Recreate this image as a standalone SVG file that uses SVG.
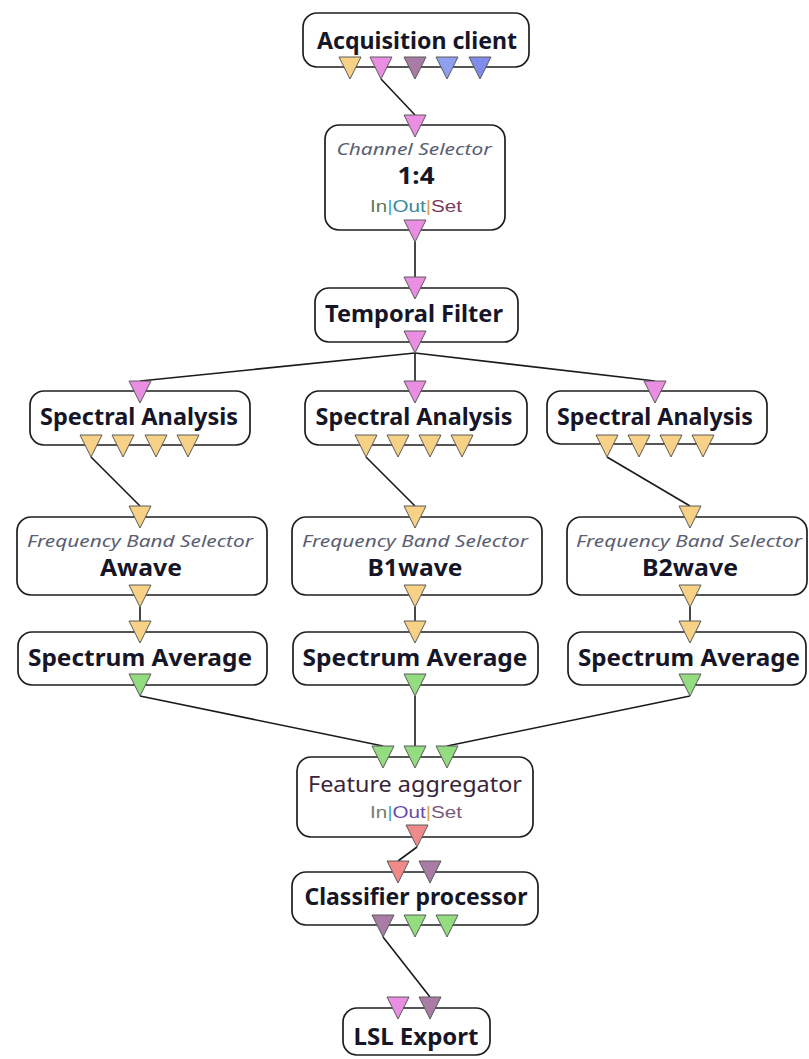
<svg xmlns="http://www.w3.org/2000/svg" xmlns:xlink="http://www.w3.org/1999/xlink" width="809" height="1059" viewBox="0 0 809 1059">
<style>
.box{fill:#fff;stroke:#1e1e1e;stroke-width:1.7}
.t{font-family:"Noto Sans","Open Sans","DejaVu Sans",sans-serif;font-weight:bold;font-size:23px;fill:#161628;text-anchor:middle}
.it{font-family:"Noto Sans","Open Sans","DejaVu Sans",sans-serif;font-style:italic;font-size:16px;fill:#5a5e72;text-anchor:middle}
.rg{font-family:"Noto Sans","Open Sans","DejaVu Sans",sans-serif;font-size:22px;fill:#3a2438;text-anchor:middle}
.ios{font-family:"Liberation Sans","Noto Sans",sans-serif;font-size:16px;text-anchor:middle}
.c{stroke:#1a1a1a;stroke-width:1.6;fill:none}
.y{fill:#f6d186}.p{fill:#ea8ee3}.m{fill:#a87ca4}.b1{fill:#8fa0ee}.b2{fill:#7f8cec}.g{fill:#93dc7f}.s{fill:#f08a8a}
</style>
<defs>
<path id="tri" d="M-11,0 L11,0 L0,22 Z" stroke="#5a5a5a" stroke-width="1"/>
</defs>
<g id="connectors">
<line class="c" x1="381" y1="79" x2="415" y2="115"/>
<line class="c" x1="415" y1="242" x2="415" y2="277"/>
<line class="c" x1="415" y1="353" x2="140" y2="381"/>
<line class="c" x1="415" y1="353" x2="415" y2="381"/>
<line class="c" x1="415" y1="353" x2="655" y2="381"/>
<line class="c" x1="91" y1="457" x2="140" y2="506"/>
<line class="c" x1="366" y1="457" x2="415" y2="506"/>
<line class="c" x1="607" y1="457" x2="690" y2="506"/>
<line class="c" x1="140" y1="607" x2="140" y2="621"/>
<line class="c" x1="415" y1="607" x2="415" y2="621"/>
<line class="c" x1="690" y1="607" x2="690" y2="621"/>
<line class="c" x1="140" y1="696" x2="383" y2="746"/>
<line class="c" x1="415" y1="696" x2="415" y2="746"/>
<line class="c" x1="690" y1="696" x2="447" y2="746"/>
<line class="c" x1="417" y1="847" x2="398" y2="861"/>
<line class="c" x1="383" y1="937" x2="430" y2="997"/>
</g>
<g id="acquisition">
<rect class="box" x="303" y="13" width="226" height="54" rx="14"/>
<text class="t" x="417" y="49" textLength="200" lengthAdjust="spacingAndGlyphs">Acquisition client</text>
<use href="#tri" xlink:href="#tri" x="350" y="57" class="y"/>
<use href="#tri" xlink:href="#tri" x="381" y="57" class="p"/>
<use href="#tri" xlink:href="#tri" x="415" y="57" class="m"/>
<use href="#tri" xlink:href="#tri" x="447" y="57" class="b1"/>
<use href="#tri" xlink:href="#tri" x="480" y="57" class="b2"/>
</g>
<g id="channel-selector">
<rect class="box" x="325" y="125" width="180" height="105" rx="14"/>
<text class="it" x="414" y="155" textLength="155" lengthAdjust="spacingAndGlyphs">Channel Selector</text>
<text class="t" x="416" y="184" textLength="37" lengthAdjust="spacingAndGlyphs">1:4</text>
<text class="ios" x="416" y="212" textLength="92" lengthAdjust="spacingAndGlyphs"><tspan fill="#5f7a52">In</tspan><tspan fill="#4aa8d0">|</tspan><tspan fill="#3a8a9a">Out</tspan><tspan fill="#e0a050">|</tspan><tspan fill="#7a3a5e">Set</tspan></text>
<use href="#tri" xlink:href="#tri" x="415" y="115" class="p"/>
<use href="#tri" xlink:href="#tri" x="415" y="220" class="p"/>
</g>
<g id="temporal-filter">
<rect class="box" x="315" y="288" width="203" height="54" rx="14"/>
<text class="t" x="414" y="322" textLength="178" lengthAdjust="spacingAndGlyphs">Temporal Filter</text>
<use href="#tri" xlink:href="#tri" x="415" y="277" class="p"/>
<use href="#tri" xlink:href="#tri" x="415" y="331" class="p"/>
</g>
<g id="spectral-1">
<rect class="box" x="30" y="391" width="220" height="54" rx="14"/>
<text class="t" x="139" y="425" textLength="198" lengthAdjust="spacingAndGlyphs">Spectral Analysis</text>
<use href="#tri" xlink:href="#tri" x="140" y="381" class="p"/>
<use href="#tri" xlink:href="#tri" x="91" y="435" class="y"/>
<use href="#tri" xlink:href="#tri" x="123" y="435" class="y"/>
<use href="#tri" xlink:href="#tri" x="156" y="435" class="y"/>
<use href="#tri" xlink:href="#tri" x="188" y="435" class="y"/>
</g>
<g id="spectral-2">
<rect class="box" x="305" y="391" width="222" height="54" rx="14"/>
<text class="t" x="414" y="425" textLength="197" lengthAdjust="spacingAndGlyphs">Spectral Analysis</text>
<use href="#tri" xlink:href="#tri" x="415" y="381" class="p"/>
<use href="#tri" xlink:href="#tri" x="366" y="435" class="y"/>
<use href="#tri" xlink:href="#tri" x="398" y="435" class="y"/>
<use href="#tri" xlink:href="#tri" x="430" y="435" class="y"/>
<use href="#tri" xlink:href="#tri" x="462" y="435" class="y"/>
</g>
<g id="spectral-3">
<rect class="box" x="547" y="391" width="220" height="53" rx="14"/>
<text class="t" x="655" y="425" textLength="196" lengthAdjust="spacingAndGlyphs">Spectral Analysis</text>
<use href="#tri" xlink:href="#tri" x="655" y="381" class="p"/>
<use href="#tri" xlink:href="#tri" x="607" y="435" class="y"/>
<use href="#tri" xlink:href="#tri" x="639" y="435" class="y"/>
<use href="#tri" xlink:href="#tri" x="671" y="435" class="y"/>
<use href="#tri" xlink:href="#tri" x="703" y="435" class="y"/>
</g>
<g id="band-a">
<rect class="box" x="17" y="517" width="250" height="78" rx="14"/>
<text class="it" x="140" y="547" textLength="226" lengthAdjust="spacingAndGlyphs">Frequency Band Selector</text>
<text class="t" x="141" y="576" textLength="82" lengthAdjust="spacingAndGlyphs">Awave</text>
<use href="#tri" xlink:href="#tri" x="140" y="506" class="y"/>
<use href="#tri" xlink:href="#tri" x="140" y="585" class="y"/>
</g>
<g id="band-b1">
<rect class="box" x="292" y="517" width="250" height="78" rx="14"/>
<text class="it" x="415" y="547" textLength="226" lengthAdjust="spacingAndGlyphs">Frequency Band Selector</text>
<text class="t" x="415" y="576" textLength="95" lengthAdjust="spacingAndGlyphs">B1wave</text>
<use href="#tri" xlink:href="#tri" x="415" y="506" class="y"/>
<use href="#tri" xlink:href="#tri" x="415" y="585" class="y"/>
</g>
<g id="band-b2">
<rect class="box" x="567" y="517" width="240" height="78" rx="14"/>
<text class="it" x="689" y="547" textLength="226" lengthAdjust="spacingAndGlyphs">Frequency Band Selector</text>
<text class="t" x="690" y="576" textLength="96" lengthAdjust="spacingAndGlyphs">B2wave</text>
<use href="#tri" xlink:href="#tri" x="690" y="506" class="y"/>
<use href="#tri" xlink:href="#tri" x="690" y="585" class="y"/>
</g>
<g id="average-1">
<rect class="box" x="18" y="632" width="249" height="53" rx="14"/>
<text class="t" x="140" y="666" textLength="224" lengthAdjust="spacingAndGlyphs">Spectrum Average</text>
<use href="#tri" xlink:href="#tri" x="140" y="621" class="y"/>
<use href="#tri" xlink:href="#tri" x="140" y="674" class="g"/>
</g>
<g id="average-2">
<rect class="box" x="293" y="632" width="245" height="53" rx="14"/>
<text class="t" x="415" y="666" textLength="225" lengthAdjust="spacingAndGlyphs">Spectrum Average</text>
<use href="#tri" xlink:href="#tri" x="415" y="621" class="y"/>
<use href="#tri" xlink:href="#tri" x="415" y="674" class="g"/>
</g>
<g id="average-3">
<rect class="box" x="568" y="632" width="238" height="53" rx="14"/>
<text class="t" x="689" y="666" textLength="222" lengthAdjust="spacingAndGlyphs">Spectrum Average</text>
<use href="#tri" xlink:href="#tri" x="690" y="621" class="y"/>
<use href="#tri" xlink:href="#tri" x="690" y="674" class="g"/>
</g>
<g id="feature-aggregator">
<rect class="box" x="297" y="757" width="236" height="80" rx="14"/>
<text class="rg" x="415" y="792" textLength="214" lengthAdjust="spacingAndGlyphs">Feature aggregator</text>
<text class="ios" x="416" y="818" textLength="92" lengthAdjust="spacingAndGlyphs"><tspan fill="#7a7a6a">In</tspan><tspan fill="#4aa8d0">|</tspan><tspan fill="#6a4ab0">Out</tspan><tspan fill="#e0a050">|</tspan><tspan fill="#7a5a7a">Set</tspan></text>
<use href="#tri" xlink:href="#tri" x="383" y="746" class="g"/>
<use href="#tri" xlink:href="#tri" x="415" y="746" class="g"/>
<use href="#tri" xlink:href="#tri" x="447" y="746" class="g"/>
<use href="#tri" xlink:href="#tri" x="417" y="825" class="s"/>
</g>
<g id="classifier">
<rect class="box" x="292" y="872" width="246" height="53" rx="14"/>
<text class="t" x="416" y="905" textLength="223" lengthAdjust="spacingAndGlyphs">Classifier processor</text>
<use href="#tri" xlink:href="#tri" x="398" y="861" class="s"/>
<use href="#tri" xlink:href="#tri" x="430" y="861" class="m"/>
<use href="#tri" xlink:href="#tri" x="383" y="915" class="m"/>
<use href="#tri" xlink:href="#tri" x="415" y="915" class="g"/>
<use href="#tri" xlink:href="#tri" x="447" y="915" class="g"/>
</g>
<g id="lsl-export">
<rect class="box" x="343" y="1008" width="147" height="47" rx="14"/>
<text class="t" x="416" y="1045" textLength="125" lengthAdjust="spacingAndGlyphs">LSL Export</text>
<use href="#tri" xlink:href="#tri" x="398" y="997" class="p"/>
<use href="#tri" xlink:href="#tri" x="430" y="997" class="m"/>
</g>
</svg>
